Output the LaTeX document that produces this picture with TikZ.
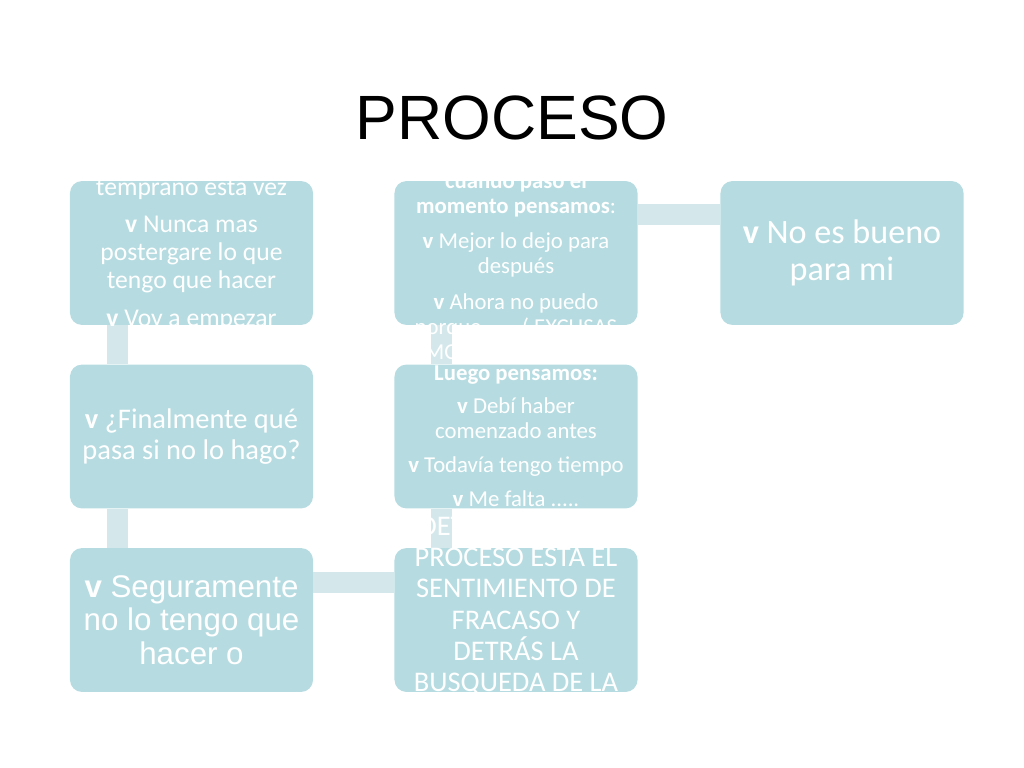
\documentclass[tikz,border=0pt]{standalone}
\usepackage{fontspec}
\setmainfont{Carlito}
\newfontfamily\arialfont{Liberation Sans}
\usepackage{tikz}
\usetikzlibrary{calc}
\definecolor{boxfill}{HTML}{B6DCE1}
\definecolor{linkfill}{HTML}{D4E8EC}
\tikzset{
  stage/.style={fill=boxfill, rounded corners=8.5pt, minimum width=170.9pt,
                minimum height=101.2pt, inner sep=0pt},
  link/.style={draw=linkfill, line width=14.8pt},
  stagetext/.style={text=white, align=center, inner sep=0pt}
}
\begin{document}
\begin{tikzpicture}[x=0.703125pt,y=-0.703125pt]
  \useasboundingbox (0,0) rectangle (1024,768);
  \node[font=\arialfont\fontsize{44}{50}\selectfont,anchor=base] (title) at (512,140) {PROCESO};

  \node[stage] (b1) at (191.5,253) {};
  \node[stage] (b2) at (516,253) {};
  \node[stage] (b7) at (842,253) {};
  \node[stage] (b3) at (191.5,436.5) {};
  \node[stage] (b4) at (516,436.5) {};
  \node[stage] (b5) at (191.5,620) {};
  \node[stage] (b6) at (516,620) {};

  \draw[link] ($(b1.south west)+(48,0)$) -- ($(b3.north west)+(48,0)$);
  \draw[link] ($(b3.south west)+(48,0)$) -- ($(b5.north west)+(48,0)$);
  \draw[link] ($(b5.north east)+(0,35)$) -- ($(b6.north west)+(0,35)$);
  \draw[link] ($(b6.north west)+(47,0)$) -- ($(b4.south west)+(47,0)$);
  \draw[link] ($(b4.north west)+(47,0)$) -- ($(b2.south west)+(47,0)$);
  \draw[link] ($(b2.north east)+(0,34)$) -- ($(b7.north west)+(0,34)$);

  \node[stagetext,font=\fontsize{18}{19.5}\selectfont,anchor=north] (t1) at ($(b1.north)+(0,-2)$)
    {temprano esta vez\\[7pt]\textbf{v} Nunca mas\\postergare lo que\\tengo que hacer\\[7pt]\textbf{v} Voy a empezar};
  \node[stagetext,font=\fontsize{16}{17.6}\selectfont,anchor=north] (t2) at ($(b2.north)+(0,-9)$)
    {\textbf{cuando paso el}\\\textbf{momento pensamos}:\\[7.5pt]\textbf{v} Mejor lo dejo para\\después\\[7.5pt]\textbf{v} Ahora no puedo\\porque ..... ( EXCUSAS\\\makebox[128pt][l]{MO}};
  \node[stagetext,font=\fontsize{20}{22}\selectfont] (t3) at (b3.center)
    {\textbf{v} ¿Finalmente qué\\pasa si no lo hago?};
  \node[stagetext,font=\fontsize{16}{17.6}\selectfont,anchor=north] (t4) at ($(b4.north)+(0,1)$)
    {\textbf{Luego pensamos:}\\[6pt]\textbf{v} Debí haber\\comenzado antes\\[6pt]\textbf{v} Todavía tengo tiempo\\[6.5pt]\textbf{v} Me falta .....};
  \node[stagetext,font=\fontsize{20}{22}\selectfont,anchor=north] (t6) at ($(b6.north)+(0,-31)$)
    {\makebox[136pt][l]{DET}\\PROCESO ESTA EL\\SENTIMIENTO DE\\FRACASO Y\\DETRÁS LA\\BUSQUEDA DE LA};
  \node[stagetext,font=\arialfont\fontsize{22}{23.5}\selectfont] (t5) at (b5.center)
    {\textbf{v} Seguramente\\no lo tengo que\\hacer o};
  \node[stagetext,font=\fontsize{24}{25.5}\selectfont] (t7) at (b7.center)
    {\textbf{v} No es bueno\\para mi};
\end{tikzpicture}
\end{document}
